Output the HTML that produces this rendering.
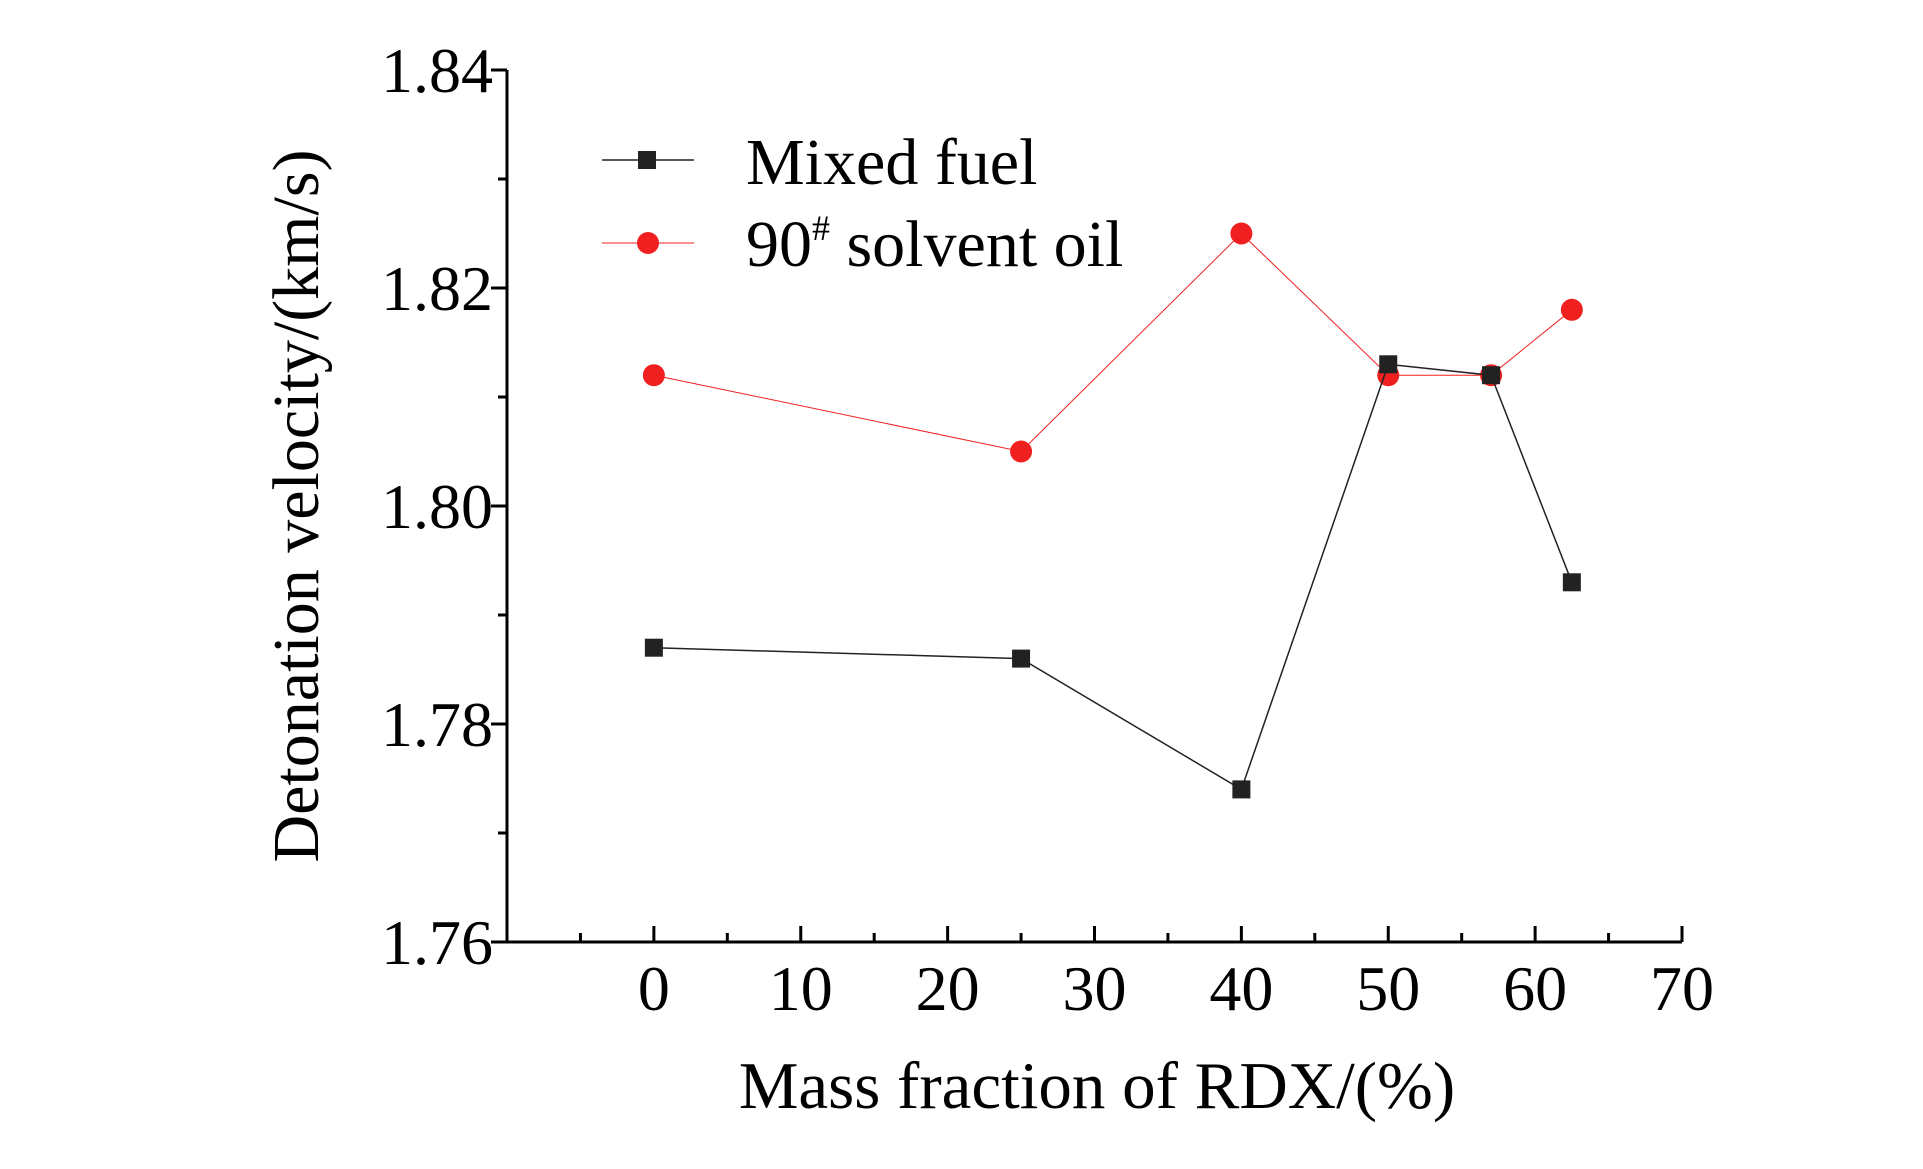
<!DOCTYPE html>
<html><head><meta charset="utf-8"><style>
html,body{margin:0;padding:0;background:#fff;}
svg{display:block;font-family:"Liberation Serif",serif;}
</style></head><body>
<svg id="chart" width="1923" height="1169" viewBox="0 0 1923 1169"></svg>
<script>
const xValues=[0,25,40,50,57,62.5];
const mixedFuel=[1.787,1.786,1.774,1.813,1.812,1.793];
const solventOil=[1.812,1.805,1.825,1.812,1.812,1.818];
const xTicks=[0,10,20,30,40,50,60,70];
const yTicks=[1.76,1.78,1.80,1.82,1.84];
const yTickLabels=["1.76","1.78","1.80","1.82","1.84"];

const NS="http://www.w3.org/2000/svg";
const svg=document.getElementById('chart');
const X0=507,X1=1682,Y0=942,Y1=70;
const xMin=-10,xMax=70,yMin=1.76,yMax=1.84;
function sx(v){return X0+(v-xMin)/(xMax-xMin)*(X1-X0);}
function sy(v){return Y0-(v-yMin)/(yMax-yMin)*(Y0-Y1);}
function mk(tag,attrs,parent){const e=document.createElementNS(NS,tag);for(const k in attrs)e.setAttribute(k,attrs[k]);(parent||svg).appendChild(e);return e;}

const axes=mk('g',{});


const ya=mk('line',{x1:X0,y1:Y1,x2:X0,y2:Y0,stroke:'#000','stroke-width':3},axes);


const xa=mk('line',{x1:X0-1.5,y1:Y0,x2:X1,y2:Y0,stroke:'#000','stroke-width':3},axes);



for(let i=0;i<yTicks.length;i++){
  const y=sy(yTicks[i]);
  mk('line',{x1:X0-16,y1:y,x2:X0,y2:y,stroke:'#000','stroke-width':3},axes);
  if(i<yTicks.length-1){const ym=sy(yTicks[i]+0.01);mk('line',{x1:X0-9,y1:ym,x2:X0,y2:ym,stroke:'#000','stroke-width':3},axes);}
  const t=mk('text',{x:X0-14,y:y+22,'text-anchor':'end','font-size':64},axes);
  t.textContent=yTickLabels[i];
  
  
}
mk('line',{x1:sx(-5),y1:Y0-9,x2:sx(-5),y2:Y0,stroke:'#000','stroke-width':3},axes);
for(let i=0;i<xTicks.length;i++){
  const x=sx(xTicks[i]);
  mk('line',{x1:x,y1:Y0-16,x2:x,y2:Y0,stroke:'#000','stroke-width':3},axes);
  if(i<xTicks.length-1){const xm=sx(xTicks[i]+5);mk('line',{x1:xm,y1:Y0-9,x2:xm,y2:Y0,stroke:'#000','stroke-width':3},axes);}
  const t=mk('text',{x:x,y:1010,'text-anchor':'middle','font-size':64},axes);
  t.textContent=xTicks[i];
  
  
}
const xt=mk('text',{x:1097,y:1108,'text-anchor':'middle','font-size':67});
xt.textContent='Mass fraction of RDX/(%)';


const yt=mk('text',{x:0,y:0,'text-anchor':'middle','font-size':66,transform:'translate(318,506) rotate(-90)'});
yt.textContent='Detonation velocity/(km/s)';



function series(vals,color,shape,name,lw){
  const g=mk('g',{});
  
  
  const pts=xValues.map((x,i)=>sx(x)+','+sy(vals[i])).join(' ');
  mk('polyline',{points:pts,fill:'none',stroke:color,'stroke-width':lw},g);
  for(let i=0;i<xValues.length;i++){
    let m;
    if(shape==='sq') m=mk('rect',{x:sx(xValues[i])-9,y:sy(vals[i])-9,width:18,height:18,fill:color},g);
    else m=mk('circle',{cx:sx(xValues[i]),cy:sy(vals[i]),r:11,fill:color},g);
    
    
  }
}
series(solventOil,'#f02020','ci','solvent-oil-series',1);
series(mixedFuel,'#222222','sq','mixed-fuel-series',1.5);

const lg=mk('g',{});


mk('line',{x1:602,y1:160,x2:694,y2:160,stroke:'#222','stroke-width':1.5},lg);
mk('rect',{x:638,y:151,width:18,height:18,fill:'#222'},lg);
const l1=mk('text',{x:746,y:184,'font-size':66},lg);
l1.textContent='Mixed fuel';


mk('line',{x1:602,y1:243,x2:694,y2:243,stroke:'#f02020','stroke-width':1},lg);
mk('circle',{cx:648,cy:243,r:11,fill:'#f02020'},lg);
const l2=mk('text',{x:746,y:266,'font-size':66},lg);
l2.innerHTML='90<tspan font-size="36" dy="-26">#</tspan><tspan dy="26"> solvent oil</tspan>';


</script>
</body></html>
